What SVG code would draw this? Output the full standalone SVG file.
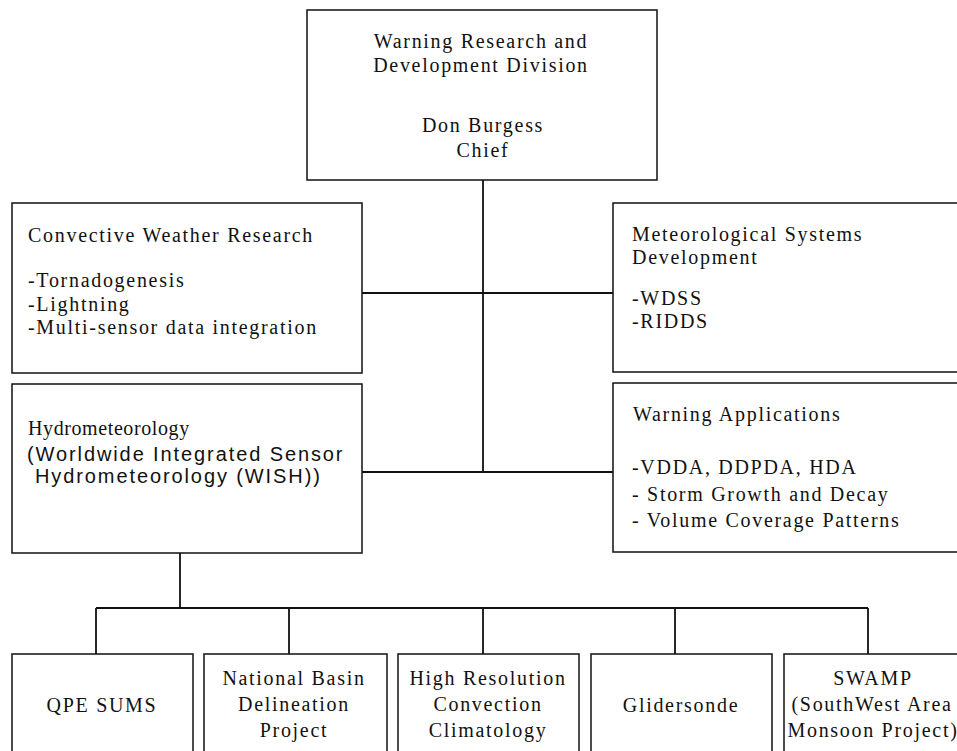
<svg xmlns="http://www.w3.org/2000/svg" width="957" height="751" viewBox="0 0 957 751">
<style>
.box{fill:#fff;stroke:#111;stroke-width:1.5}
.con{fill:none;stroke:#111;stroke-width:1.8}
.t{font-family:"Liberation Serif","Times New Roman",serif;font-size:20px;letter-spacing:1.7px;fill:#111}
.s{font-family:"Liberation Sans",Arial,sans-serif;font-size:20px;letter-spacing:1.9px;fill:#111}
.c{text-anchor:middle}
</style>
<rect x="0" y="0" width="957" height="751" fill="#fff"/>
<g id="connectors">
<path class="con" d="M483 180V472M362 293H613M362 472H613M180 553V608M96 608H868M96 608V654M289 608V654M483 608V654M675 608V654M868 608V654"/>
</g>
<g id="chief">
<rect class="box" x="307" y="10" width="350" height="170"/>
<text class="t c" x="481" y="48">Warning Research and</text>
<text class="t c" x="481" y="72">Development Division</text>
<text class="t c" x="483" y="132">Don Burgess</text>
<text class="t c" x="483" y="157">Chief</text>
</g>
<g id="convective">
<rect class="box" x="12" y="203" width="350" height="170"/>
<text class="t" x="28" y="242">Convective Weather Research</text>
<text class="t" x="28" y="287">-Tornadogenesis</text>
<text class="t" x="28" y="311">-Lightning</text>
<text class="t" x="28" y="334">-Multi-sensor data integration</text>
</g>
<g id="metsys">
<rect class="box" x="613" y="203" width="360" height="169"/>
<text class="t" x="632" y="241">Meteorological Systems</text>
<text class="t" x="632" y="264">Development</text>
<text class="t" x="632" y="305">-WDSS</text>
<text class="t" x="632" y="328">-RIDDS</text>
</g>
<g id="hydro">
<rect class="box" x="12" y="384" width="350" height="169"/>
<text class="t" x="28" y="435" style="letter-spacing:0.6px">Hydrometeorology</text>
<text class="s" x="27" y="461">(Worldwide Integrated Sensor</text>
<text class="s" x="35" y="483">Hydrometeorology (WISH))</text>
</g>
<g id="warnapps">
<rect class="box" x="613" y="383" width="360" height="169"/>
<text class="t" x="633" y="421">Warning Applications</text>
<text class="t" x="632" y="474">-VDDA, DDPDA, HDA</text>
<text class="t" x="632" y="501">- Storm Growth and Decay</text>
<text class="t" x="632" y="527">- Volume Coverage Patterns</text>
</g>
<g id="qpe">
<rect class="box" x="12" y="654" width="181" height="120"/>
<text class="t c" x="102" y="712">QPE SUMS</text>
</g>
<g id="nbdp">
<rect class="box" x="204" y="654" width="183" height="120"/>
<text class="t c" x="294" y="685">National Basin</text>
<text class="t c" x="294" y="711">Delineation</text>
<text class="t c" x="294" y="737">Project</text>
</g>
<g id="hrcc">
<rect class="box" x="398" y="654" width="181" height="120"/>
<text class="t c" x="488" y="685">High Resolution</text>
<text class="t c" x="488" y="711">Convection</text>
<text class="t c" x="488" y="737">Climatology</text>
</g>
<g id="glider">
<rect class="box" x="591" y="654" width="181" height="120"/>
<text class="t c" x="681" y="712">Glidersonde</text>
</g>
<g id="swamp">
<rect class="box" x="784" y="654" width="181" height="120"/>
<text class="t c" x="873" y="685">SWAMP</text>
<text class="t c" x="872" y="711">(SouthWest Area</text>
<text class="t c" x="873" y="737">Monsoon Project)</text>
</g>
</svg>
